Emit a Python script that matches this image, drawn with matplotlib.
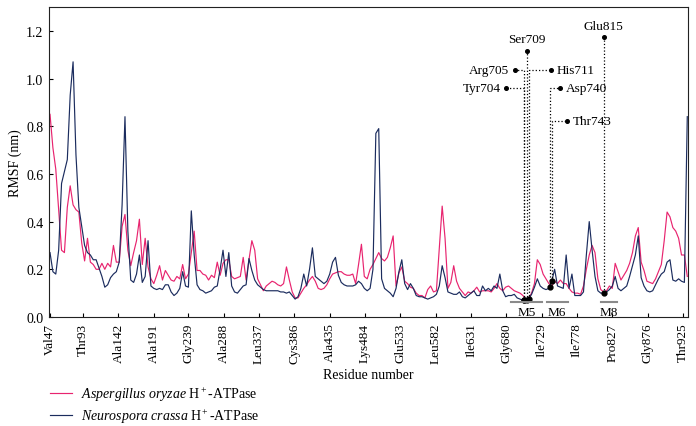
import numpy as np
import matplotlib
matplotlib.use("Agg")
import matplotlib.pyplot as plt

plt.rcParams['font.family'] = ['Liberation Serif', 'DejaVu Serif']
plt.rcParams['mathtext.fontset'] = 'custom'
plt.rcParams['mathtext.rm'] = 'Liberation Serif'
plt.rcParams['mathtext.it'] = 'Liberation Serif:italic'

# RMSF (nm), one value every 4 residues, starting at Val47
rmsf_aoryzae = [
    0.85, 0.71, 0.62, 0.45, 0.28, 0.27, 0.46, 0.55, 0.47, 0.45,
    0.44, 0.31, 0.235, 0.33, 0.23, 0.22, 0.20, 0.20, 0.225, 0.20,
    0.225, 0.21, 0.30, 0.23, 0.23, 0.38, 0.43, 0.28, 0.215, 0.27,
    0.32, 0.41, 0.22, 0.33, 0.21, 0.16, 0.14, 0.175, 0.215, 0.155,
    0.195, 0.175, 0.155, 0.15, 0.17, 0.16, 0.22, 0.16, 0.18, 0.27,
    0.36, 0.195, 0.195, 0.18, 0.175, 0.155, 0.175, 0.165, 0.23, 0.175,
    0.225, 0.24, 0.24, 0.17, 0.16, 0.165, 0.17, 0.25, 0.155, 0.24,
    0.32, 0.28, 0.16, 0.135, 0.11, 0.13, 0.14, 0.15, 0.145, 0.135,
    0.13, 0.14, 0.21, 0.155, 0.105, 0.08, 0.08, 0.10, 0.12, 0.135,
    0.155, 0.17, 0.15, 0.12, 0.115, 0.12, 0.135, 0.16, 0.18, 0.185,
    0.19, 0.19, 0.18, 0.175, 0.175, 0.18, 0.14, 0.22, 0.305, 0.17,
    0.16, 0.20, 0.22, 0.245, 0.27, 0.245, 0.235, 0.25, 0.29, 0.34,
    0.13, 0.185, 0.21, 0.15, 0.14, 0.125, 0.12, 0.10, 0.09, 0.09,
    0.08, 0.115, 0.13, 0.105, 0.11, 0.285, 0.465, 0.33, 0.12, 0.145,
    0.215, 0.15, 0.12, 0.105, 0.09, 0.105, 0.10, 0.11, 0.125, 0.105,
    0.11, 0.11, 0.11, 0.105, 0.12, 0.14, 0.12, 0.11, 0.125, 0.13,
    0.12, 0.11, 0.105, 0.10, 0.09, 0.075, 0.08, 0.10, 0.14, 0.24,
    0.22, 0.18, 0.16, 0.14, 0.13, 0.15, 0.14, 0.155, 0.14, 0.14,
    0.12, 0.105, 0.10, 0.10, 0.095, 0.13, 0.20, 0.26, 0.30, 0.27,
    0.16, 0.115, 0.105, 0.11, 0.13, 0.12, 0.225, 0.19, 0.155, 0.175,
    0.195, 0.225, 0.27, 0.34, 0.375, 0.23, 0.195, 0.15, 0.145, 0.14,
    0.16, 0.19, 0.22, 0.32, 0.44, 0.42, 0.375, 0.36, 0.33, 0.26,
    0.26, 0.17,
]
rmsf_ncrassa = [
    0.27, 0.19, 0.18, 0.28, 0.56, 0.61, 0.66, 0.93, 1.07, 0.68,
    0.46, 0.38, 0.30, 0.27, 0.26, 0.24, 0.24, 0.205, 0.17, 0.125,
    0.135, 0.165, 0.18, 0.19, 0.23, 0.47, 0.84, 0.36, 0.155, 0.145,
    0.18, 0.26, 0.145, 0.17, 0.32, 0.13, 0.12, 0.115, 0.12, 0.115,
    0.135, 0.135, 0.105, 0.09, 0.10, 0.12, 0.19, 0.13, 0.125, 0.445,
    0.26, 0.135, 0.115, 0.11, 0.10, 0.105, 0.11, 0.125, 0.13, 0.20,
    0.28, 0.17, 0.27, 0.13, 0.105, 0.10, 0.115, 0.13, 0.135, 0.245,
    0.195, 0.155, 0.135, 0.125, 0.115, 0.11, 0.11, 0.11, 0.11, 0.11,
    0.105, 0.105, 0.10, 0.105, 0.09, 0.075, 0.085, 0.12, 0.18, 0.13,
    0.20, 0.29, 0.17, 0.16, 0.15, 0.14, 0.15, 0.18, 0.23, 0.25,
    0.175, 0.145, 0.135, 0.13, 0.13, 0.13, 0.135, 0.15, 0.14, 0.12,
    0.11, 0.12, 0.20, 0.77, 0.79, 0.16, 0.12, 0.11, 0.10, 0.085,
    0.12, 0.19, 0.24, 0.14, 0.115, 0.14, 0.12, 0.09, 0.085, 0.085,
    0.08, 0.075, 0.08, 0.085, 0.095, 0.13, 0.215, 0.165, 0.105, 0.10,
    0.095, 0.095, 0.105, 0.085, 0.08, 0.09, 0.10, 0.11, 0.09, 0.09,
    0.13, 0.11, 0.12, 0.11, 0.13, 0.12, 0.18, 0.11, 0.085, 0.09,
    0.09, 0.095, 0.08, 0.075, 0.07, 0.07, 0.075, 0.095, 0.125, 0.16,
    0.13, 0.12, 0.115, 0.12, 0.15, 0.20, 0.13, 0.125, 0.12, 0.26,
    0.12, 0.18, 0.09, 0.09, 0.09, 0.105, 0.26, 0.40, 0.28, 0.17,
    0.11, 0.10, 0.10, 0.105, 0.115, 0.13, 0.17, 0.12, 0.11, 0.12,
    0.13, 0.17, 0.215, 0.26, 0.34, 0.165, 0.13, 0.11, 0.105, 0.11,
    0.135, 0.16, 0.18, 0.19, 0.23, 0.24, 0.155, 0.15, 0.16, 0.15,
    0.145, 0.84,
]

tick_residues = [47, 93, 142, 191, 239, 288, 337, 386, 435, 484,
                 533, 582, 631, 680, 729, 778, 827, 876, 925]
tick_labels = ['Val47', 'Thr93', 'Ala142', 'Ala191', 'Gly239', 'Ala288',
               'Leu337', 'Cys386', 'Ala435', 'Lys484', 'Glu533', 'Leu582',
               'Ile631', 'Gly680', 'Ile729', 'Ile778', 'Pro827', 'Gly876',
               'Thr925']

site_names = ['Tyr704', 'Arg705', 'Ser709', 'His711', 'Asp740', 'Thr743', 'Glu815']
site_res = [704, 705, 709, 711, 740, 743, 815]

segment_names = ['M5', 'M6', 'M8']
segment_start = [687, 736, 811]
segment_end = [730, 765, 833]

# label placement for the marked residues: (label height, horizontal lead)
site_layout = {
    'Tyr704': (0.959, -24.5),
    'Arg705': (1.036, -13),
    'Ser709': (1.117, 0),
    'His711': (1.036, 30.4),
    'Asp740': (0.959, 14.3),
    'Thr743': (0.822, 21),
    'Glu815': (1.173, 0),
}

PINK = '#E8246F'
NAVY = '#1B2C5E'

ao = np.array(rmsf_aoryzae)
nc = np.array(rmsf_ncrassa)
res_ao = 47 + 4 * np.arange(len(ao))
res_nc = 47 + 4 * np.arange(len(nc))

fig = plt.figure(figsize=(6.96, 4.27), dpi=100)
ax = fig.add_axes([0.0704, 0.2553, 0.9181, 0.7260])

l1, = ax.plot(res_ao, ao, color=PINK, lw=0.85)
l2, = ax.plot(res_nc, nc, color=NAVY, lw=0.85)

# marked residues with dotted leaders
y_site = np.interp(site_res, res_nc, nc)
for name, r, y0 in zip(site_names, site_res, y_site):
    level, lead = site_layout[name]
    xd = r + lead
    ax.plot([r, r, xd], [y0, level, level], ls=':', color='k', lw=0.9)
    ax.plot(xd, level, 'o', color='k', ms=2.6)
    if lead < 0:
        ax.annotate(name, (xd, level), xytext=(-4, 0), textcoords='offset points',
                    ha='right', va='center', fontsize=9.5)
    elif lead > 0:
        ax.annotate(name, (xd, level), xytext=(4, 0), textcoords='offset points',
                    ha='left', va='center', fontsize=9.5)
    else:
        ax.annotate(name, (xd, level), xytext=(0, 4), textcoords='offset points',
                    ha='center', va='bottom', fontsize=9.5)
ax.plot(site_res, y_site, 'o', color='k', ms=3.5)

# transmembrane segments
for name, s, e in zip(segment_names, segment_start, segment_end):
    ax.plot([s, e], [0.062, 0.062], color='#8a8a8a', lw=1.5)
    ax.text((s + e) / 2, 0.022, name, ha='center', va='center', fontsize=9.5)

ax.set_xlim(45.6, 932)
ax.set_ylim(0, 1.3)
ax.set_xticks(tick_residues)
ax.set_xticklabels(tick_labels, rotation=90, fontsize=9.5)
ax.set_yticks(np.arange(0, 1.3, 0.2))
ax.set_yticklabels(['%.1f' % v for v in np.arange(0, 1.3, 0.2)], fontsize=10)
ax.tick_params(direction='in', length=3, width=0.8, pad=4)
for sp in ax.spines.values():
    sp.set_linewidth(0.8)
    sp.set_color('#222222')

ax.set_ylabel('RMSF (nm)', fontsize=10)
ax.yaxis.set_label_coords(-0.043, 0.5)
ax.set_xlabel('Residue number', fontsize=10)
ax.xaxis.set_label_coords(0.5, -0.165)

fig.legend([l1, l2],
           [r'$\mathit{Aspergillus\ oryzae}$ H$^+$-ATPase',
            r'$\mathit{Neurospora\ crassa}$ H$^+$-ATPase'],
           loc='upper left', bbox_to_anchor=(50 / 696, 1 - 386 / 427),
           frameon=False, fontsize=10, handlelength=1.6, handletextpad=0.6,
           labelspacing=0.25, borderpad=0, borderaxespad=0)

fig.savefig('out.png', dpi=100)
